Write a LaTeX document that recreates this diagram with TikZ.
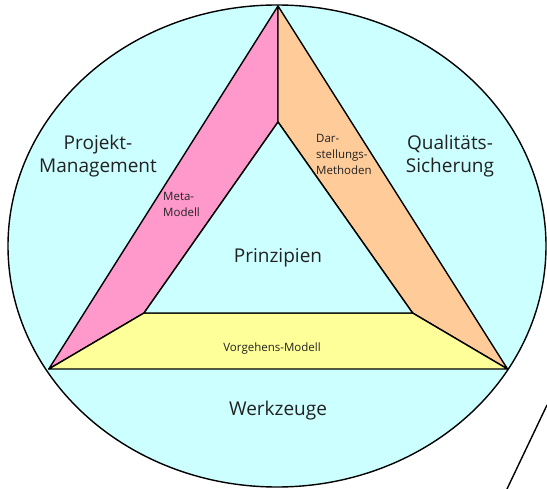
\documentclass[tikz,border=0pt]{standalone}
\usepackage{fontspec}
\setmainfont{Open Sans}
\usepackage{tikz}

\definecolor{hellcyan}{HTML}{CCFFFF}
\definecolor{rosa}{HTML}{FF99CC}
\definecolor{apricot}{HTML}{FFCC99}
\definecolor{hellgelb}{HTML}{FFFF99}
\definecolor{schrift}{HTML}{222222}

\tikzset{
  rand/.style={draw=black, line width=1.4pt, line join=round},
  gross/.style={font=\fontsize{19}{23}\selectfont, text=schrift, align=center},
  klein/.style={font=\fontsize{11.5}{16}\selectfont, text=schrift, align=left, inner sep=0pt},
}

\begin{document}
\begin{tikzpicture}[x=1pt,y=-1pt]
    \useasboundingbox (0,0) rectangle (547,489);
    % Ecken
    \coordinate (spitze) at (278,6);
    \coordinate (links) at (48.8,369);
    \coordinate (rechts) at (507.5,369);
    \coordinate (itop) at (278,122);
    \coordinate (ilinks) at (144,313);
    \coordinate (irechts) at (412.6,313);
    \draw[rand, fill=hellcyan] (277,246) ellipse (269 and 241);
    \draw[rand, fill=rosa] (spitze) -- (itop) -- (ilinks) -- (links) -- cycle;
    \draw[rand, fill=apricot] (spitze) -- (rechts) -- (irechts) -- (itop) -- cycle;
    \draw[rand, fill=hellgelb] (links) -- (rechts) -- (irechts) -- (ilinks) -- cycle;
    \draw[rand, fill=hellcyan] (itop) -- (ilinks) -- (irechts) -- cycle;
    % Strich unten rechts
    \coordinate (strichA) at (547,405);
    \coordinate (strichB) at (507,489);
    \draw[line width=1.4pt] (strichA) -- (strichB);
    % Beschriftung
    \node[gross] (pm) at (98,156) {Projekt-\\Management};
    \node[gross] (qs) at (450,156) {Qualitäts-\\Sicherung};
    \node[gross] (pr) at (278,258) {Prinzipien};
    \node[gross] (wz) at (278,411) {Werkzeuge};
    \node[klein, anchor=west] (mm) at (163,204) {Meta-\\Modell};
    \node[klein, anchor=west] (dm) at (316,154) {Dar-\\stellungs-\\Methoden};
    \node[klein] (vm) at (272,349) {Vorgehens-Modell};
\end{tikzpicture}
\end{document}
